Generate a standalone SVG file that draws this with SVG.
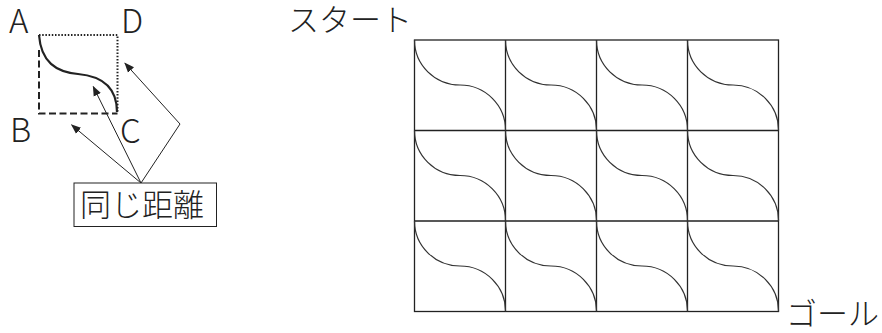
<svg xmlns="http://www.w3.org/2000/svg" width="882" height="333" viewBox="0 0 882 333">
<style>
.lbl{font-family:"Noto Sans CJK JP","Noto Sans",sans-serif;font-size:33px;font-weight:300;fill:#222}
.jp{font-family:"Noto Sans CJK JP",sans-serif;font-size:31px;font-weight:300;fill:#222}
.grid{fill:none;stroke:#222;stroke-width:1.3}
.cv{fill:none;stroke:#333;stroke-width:1.2}
.arr{fill:none;stroke:#222;stroke-width:1}
</style>
<defs>
<marker id="ah" viewBox="0 0 10 10" refX="9" refY="5" markerWidth="10" markerHeight="10" markerUnits="userSpaceOnUse" orient="auto">
<path d="M0,1 L10,5 L0,9 Z" fill="#222"/>
</marker>
<path id="tile" d="M0,0 A45.5,45 0 0 0 45.5,45 A45.5,45 0 0 1 91,90.5" class="cv"/>
</defs>
<g id="legend">
<path d="M39,35 H117.5 V113" fill="none" stroke="#222" stroke-width="2" stroke-dasharray="1.5,1.7"/>
<path d="M39,50 V113.5 H117.5" fill="none" stroke="#222" stroke-width="2" stroke-dasharray="7,3.5"/>
<path d="M39,35 C41,62 56,72 78,74 C100,76 117,86 117,112" fill="none" stroke="#222" stroke-width="2.2"/>
<text class="lbl" x="9" y="33">A</text>
<text class="lbl" x="121" y="33">D</text>
<text class="lbl" x="10" y="142">B</text>
<text class="lbl" x="120" y="143">C</text>
</g>
<g id="connectors">
<line class="arr" x1="141" y1="183" x2="71.7" y2="125" marker-end="url(#ah)"/>
<line class="arr" x1="141" y1="183" x2="93.3" y2="86.7" marker-end="url(#ah)"/>
<polyline class="arr" points="141,183 180,124 125,63.3" marker-end="url(#ah)"/>
</g>
<g id="label-box">
<rect x="74" y="183" width="142.5" height="43.5" fill="#fff" stroke="#222" stroke-width="1"/>
<text class="jp" x="80" y="216">同じ距離</text>
</g>
<g id="start"><text class="jp" x="288" y="31">スタート</text></g>
<g id="goal"><text class="jp" x="786" y="325">ゴール</text></g>
<g id="maze">
<rect class="grid" x="414.5" y="40" width="364" height="271.5"/>
<path class="grid" d="M505.5,40V311.5M596.5,40V311.5M687.5,40V311.5M414.5,130.5H778.5M414.5,221H778.5"/>
<use href="#tile" x="414.5" y="40"/><use href="#tile" x="505.5" y="40"/><use href="#tile" x="596.5" y="40"/><use href="#tile" x="687.5" y="40"/>
<use href="#tile" x="414.5" y="130.5"/><use href="#tile" x="505.5" y="130.5"/><use href="#tile" x="596.5" y="130.5"/><use href="#tile" x="687.5" y="130.5"/>
<use href="#tile" x="414.5" y="221"/><use href="#tile" x="505.5" y="221"/><use href="#tile" x="596.5" y="221"/><use href="#tile" x="687.5" y="221"/>
</g>
</svg>
